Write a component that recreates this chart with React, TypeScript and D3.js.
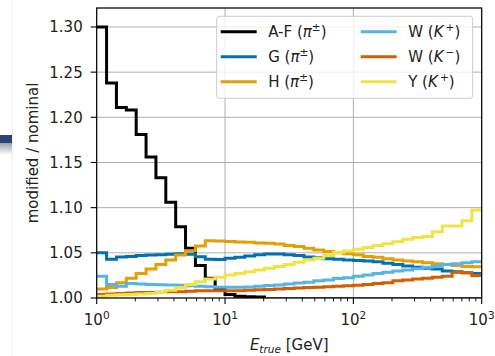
import React from "react";
import * as d3 from "d3";

// Histogram binning: 39 logarithmic bins between 1 GeV and 1 TeV
const nBins = 39;
const energyMin = 1;
const energyMax = 1000;

// Ratio modified / nominal per energy bin
const afPi = [
  1.3, 1.238, 1.211, 1.208, 1.181, 1.156, 1.133, 1.106, 1.079, 1.055,
  1.036, 1.022, 1.01, 1.004, 1.002, 1.0015, 1.001, 0.999, 0.999, 0.999,
  0.999, 0.999, 0.999, 0.999, 0.999, 0.999, 0.999, 0.999, 0.999, 0.999,
  0.999, 0.999, 0.999, 0.999, 0.999, 0.999, 0.999, 0.999, 0.999,
];
const gPi = [
  1.05, 1.043, 1.0455, 1.046, 1.047, 1.0475, 1.048, 1.0485, 1.049, 1.0485,
  1.0457, 1.043, 1.0425, 1.044, 1.045, 1.0465, 1.048, 1.0487, 1.0487, 1.048,
  1.047, 1.0455, 1.0445, 1.0435, 1.043, 1.042, 1.0415, 1.041, 1.04, 1.0385,
  1.037, 1.0355, 1.034, 1.033, 1.032, 1.03, 1.029, 1.028, 1.027,
];
const hPi = [
  1.01, 1.0115, 1.017, 1.022, 1.027, 1.032, 1.037, 1.042, 1.0476, 1.0524,
  1.0576, 1.0634, 1.063, 1.0625, 1.062, 1.0618, 1.061, 1.0605, 1.0598, 1.058,
  1.057, 1.055, 1.053, 1.0515, 1.05, 1.049, 1.048, 1.046, 1.045, 1.0435,
  1.042, 1.041, 1.04, 1.039, 1.038, 1.037, 1.036, 1.035, 1.0345,
];
const wKPlus = [
  1.024, 1.015, 1.013, 1.016, 1.0155, 1.015, 1.0148, 1.0145, 1.014, 1.0135,
  1.013, 1.0125, 1.012, 1.012, 1.012, 1.0122, 1.013, 1.0138, 1.0145, 1.0155,
  1.0165, 1.0175, 1.019, 1.02, 1.0215, 1.0225, 1.024, 1.0255, 1.027, 1.0285,
  1.03, 1.031, 1.0325, 1.034, 1.0355, 1.037, 1.038, 1.039, 1.04,
];
const wKMinus = [
  1.004, 1.0045, 1.005, 1.0055, 1.006, 1.006, 1.0065, 1.007, 1.007, 1.0075,
  1.008, 1.008, 1.008, 1.008, 1.008, 1.0085, 1.009, 1.0095, 1.01, 1.0105,
  1.011, 1.0115, 1.012, 1.0125, 1.013, 1.0135, 1.014, 1.015, 1.016, 1.017,
  1.019, 1.02, 1.021, 1.022, 1.023, 1.024, 1.0285, 1.028, 1.025,
];
const yKPlus = [
  1.002, 1.003, 1.0035, 1.004, 1.0045, 1.005, 1.006, 1.0085, 1.0115, 1.015,
  1.018, 1.021, 1.023, 1.0255, 1.027, 1.029, 1.031, 1.033, 1.035, 1.037,
  1.0395, 1.042, 1.044, 1.047, 1.0505, 1.052, 1.054, 1.056, 1.058, 1.06,
  1.0624, 1.065, 1.067, 1.068, 1.0734, 1.0797, 1.0797, 1.0856, 1.0974,
];

const yTicks = [1.0, 1.05, 1.1, 1.15, 1.2, 1.25, 1.3];
const xTickExponents = [0, 1, 2, 3];

type Series = { label: string; particle: "pi" | "K"; charge: string; color: string; values: number[] };

const seriesList: Series[] = [
  { label: "A-F", particle: "pi", charge: "±", color: "#000000", values: afPi },
  { label: "G", particle: "pi", charge: "±", color: "#0072B2", values: gPi },
  { label: "H", particle: "pi", charge: "±", color: "#E69F00", values: hPi },
  { label: "W", particle: "K", charge: "+", color: "#56B4E9", values: wKPlus },
  { label: "W", particle: "K", charge: "−", color: "#D55E00", values: wKMinus },
  { label: "Y", particle: "K", charge: "+", color: "#F0E442", values: yKPlus },
];

const W = 495;
const H = 356;
const margin = { left: 96.7, right: 13.3, top: 8, bottom: 58 };
const FONT = "'DejaVu Sans', sans-serif";

export default function App() {
  const x = d3
    .scaleLog()
    .domain([energyMin, energyMax])
    .range([margin.left, W - margin.right]);
  const y = d3
    .scaleLinear()
    .domain([1.0, 1.321])
    .range([H - margin.bottom, margin.top]);

  const edges = d3
    .range(nBins + 1)
    .map((i) => energyMin * Math.pow(energyMax / energyMin, i / nBins));

  const stepLine = d3
    .line<[number, number]>()
    .x((d) => x(d[0]))
    .y((d) => y(d[1]))
    .curve(d3.curveStepAfter);

  const pathFor = (vals: number[]) => {
    const pts: [number, number][] = vals.map((v, i) => [edges[i], v]);
    pts.push([edges[nBins], vals[nBins - 1]]);
    return stepLine(pts) || "";
  };

  const x0 = margin.left;
  const x1 = W - margin.right;
  const y0 = H - margin.bottom;
  const y1 = margin.top;

  const minorTicks: number[] = [];
  for (let e = 0; e < 3; e++) {
    for (let m = 2; m <= 9; m++) minorTicks.push(m * Math.pow(10, e));
  }

  // Legend layout: two columns, three rows
  const legend = { x: 216.7, y: 16.3, w: 256, h: 82 };
  const colX = [220.7, 360.7];
  const rowY = [31.7, 56.7, 81.7];

  const legendLabel = (s: Series) => (
    <>
      {s.label + " ("}
      <tspan fontStyle="italic">{s.particle === "pi" ? "π" : "K"}</tspan>
      <tspan fontSize={10.5} dy={-6}>
        {s.particle === "K" ? "\u2009" + s.charge : s.charge}
      </tspan>
      <tspan dy={6}>)</tspan>
    </>
  );

  return (
    <svg
      width={W}
      height={H}
      style={{ position: "fixed", left: 0, top: 0, background: "#fff" }}
      fontFamily={FONT}
    >
      <defs>
        <clipPath id="plot-clip">
          <rect x={x0} y={y1} width={x1 - x0} height={y0 - y1} />
        </clipPath>
        <linearGradient id="bar-shade" x1="0" y1="0" x2="0" y2="1">
          <stop offset="0" stopColor="#9aa0aa" />
          <stop offset="1" stopColor="#ffffff" />
        </linearGradient>
      </defs>

      {/* page edge decoration */}
      <line x1={12} x2={12} y1={0} y2={H} stroke="#eeeeee" strokeWidth={1} />
      <rect x={0} y={135} width={12} height={8} fill="#2d4373" />
      <rect x={0} y={143} width={12} height={12} fill="url(#bar-shade)" />

      {/* grid */}
      {yTicks
        .filter((t) => t > 1.0)
        .map((t) => (
          <line key={"gy" + t} x1={x0} x2={x1} y1={y(t)} y2={y(t)} stroke="#b0b0b0" strokeWidth={1} />
        ))}
      {xTickExponents
        .filter((e) => e > 0 && e < 3)
        .map((e) => (
          <line
            key={"gx" + e}
            x1={x(Math.pow(10, e))}
            x2={x(Math.pow(10, e))}
            y1={y1}
            y2={y0}
            stroke="#b0b0b0"
            strokeWidth={1}
          />
        ))}

      {/* step histograms */}
      <g clipPath="url(#plot-clip)">
        {seriesList.map((s, i) => (
          <path
            key={"s" + i}
            d={pathFor(s.values)}
            fill="none"
            stroke={s.color}
            strokeWidth={3}
            strokeLinejoin="miter"
          />
        ))}
      </g>

      {/* axes frame */}
      <rect x={x0} y={y1} width={x1 - x0} height={y0 - y1} fill="none" stroke="#000" strokeWidth={1.25} />

      {/* y ticks */}
      {yTicks.map((t) => (
        <g key={"yt" + t}>
          <line x1={x0 - 6} x2={x0} y1={y(t)} y2={y(t)} stroke="#000" strokeWidth={1.1} />
          <text x={x0 - 14} y={y(t)} dy="0.36em" textAnchor="end" fontSize={15} fill="#222">
            {t.toFixed(2)}
          </text>
        </g>
      ))}

      {/* x ticks */}
      {minorTicks.map((t) => (
        <line key={"mx" + t} x1={x(t)} x2={x(t)} y1={y0} y2={y0 + 3.5} stroke="#000" strokeWidth={0.9} />
      ))}
      {xTickExponents.map((e) => (
        <g key={"xt" + e}>
          <line
            x1={x(Math.pow(10, e))}
            x2={x(Math.pow(10, e))}
            y1={y0}
            y2={y0 + 6}
            stroke="#000"
            strokeWidth={1.1}
          />
          <text x={x(Math.pow(10, e))} y={y0 + 27} textAnchor="middle" fontSize={15} fill="#222">
            10
            <tspan fontSize={10.5} dy={-6.5}>
              {String(e)}
            </tspan>
          </text>
        </g>
      ))}

      {/* axis labels */}
      <text x={(x0 + x1) / 2} y={350} textAnchor="middle" fontSize={15} fill="#222">
        <tspan fontStyle="italic">E</tspan>
        <tspan fontStyle="italic" fontSize={10.5} dy={3}>
          true
        </tspan>
        <tspan dy={-3}> [GeV]</tspan>
      </text>
      <text
        transform={`translate(38, ${(y0 + y1) / 2}) rotate(-90)`}
        textAnchor="middle"
        fontSize={15}
        fill="#222"
      >
        modified / nominal
      </text>

      {/* legend */}
      <rect
        x={legend.x}
        y={legend.y}
        width={legend.w}
        height={legend.h}
        rx={3}
        fill="#ffffff"
        fillOpacity={0.8}
        stroke="#cccccc"
        strokeWidth={1}
      />
      {seriesList.map((s, i) => {
        const cx = colX[Math.floor(i / 3)];
        const cy = rowY[i % 3];
        return (
          <g key={"lg" + i}>
            <line x1={cx} x2={cx + 36} y1={cy} y2={cy} stroke={s.color} strokeWidth={3} />
            <text x={cx + 47.5} y={cy} dy="0.36em" fontSize={15} fill="#222">
              {legendLabel(s)}
            </text>
          </g>
        );
      })}
    </svg>
  );
}
